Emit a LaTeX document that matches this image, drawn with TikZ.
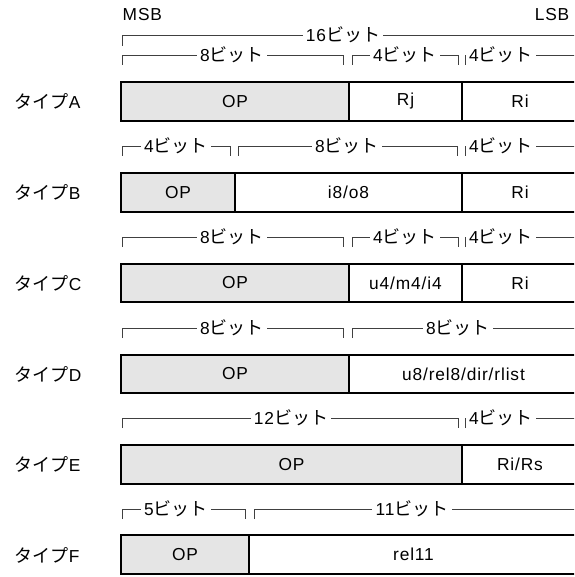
\documentclass[tikz,border=0pt]{standalone}
\usepackage{fontspec}
\setmainfont{Liberation Sans}[LetterSpace=5]
\newfontfamily\jp{Noto Sans CJK JP}[Scale=1.04]
\newcommand{\bits}[1]{#1{\jp ビット}}
\newcommand{\typ}[1]{{\jp タイプ}#1}

\begin{document}
\begin{tikzpicture}[
  x=0.75pt, y=-0.75pt,
  opfield/.style={draw=black, line width=1.4pt, fill=black!10},
  datafield/.style={draw=black, line width=1.4pt, fill=white},
  bitbar/.style={draw=black!75, line width=0.6pt},
  bitlbl/.style={fill=white, inner xsep=2.5pt, inner ysep=0.5pt, font=\fontsize{13}{15}\selectfont},
  fldtxt/.style={font=\fontsize{13}{15}\selectfont},
  typelbl/.style={anchor=west, font=\fontsize{13}{15}\selectfont}
]
\useasboundingbox (0,0) rectangle (574,577);
\clip (0,0) rectangle (574,577);
\node[fldtxt, anchor=west] (msb) at (118,15) {MSB};
\node[fldtxt, anchor=east] (lsb) at (574,15) {LSB};
\draw[bitbar] (122,46) |- (600,35);
\node[bitlbl] (w16) at (343,35) {\bits{16}};
\node[typelbl] (tA) at (10,101.5) {\typ{A}};
\foreach \a/\b/\t/\s [count=\i] in {121/349/OP/opfield, 349/462/Rj/datafield, 462/578/Ri/datafield}{
  \draw[\s] (\a,82) rectangle (\b,121);
  \node[fldtxt] (fA\i) at ({(\a+\b)/2},101.5) {\t};
}
\foreach \a/\b/\m/\n [count=\i] in {122/343/232/8, 352/458/405/4, 465/600/501/4}{
  \draw[bitbar] (\a,65) |- (\b,55) -- (\b,65);
  \node[bitlbl] (bA\i) at (\m,55) {\bits{\n}};
}
\node[typelbl] (tB) at (10,192.5) {\typ{B}};
\foreach \a/\b/\t/\s [count=\i] in {121/235/OP/opfield, 235/462/{i8/o8}/datafield, 462/578/Ri/datafield}{
  \draw[\s] (\a,173) rectangle (\b,212);
  \node[fldtxt] (fB\i) at ({(\a+\b)/2},192.5) {\t};
}
\foreach \a/\b/\m/\n [count=\i] in {122/230/176/4, 238/457/347/8, 465/600/501/4}{
  \draw[bitbar] (\a,156) |- (\b,146) -- (\b,156);
  \node[bitlbl] (bB\i) at (\m,146) {\bits{\n}};
}
\node[typelbl] (tC) at (10,283) {\typ{C}};
\foreach \a/\b/\t/\s [count=\i] in {121/349/OP/opfield, 349/462/{u4/m4/i4}/datafield, 462/578/Ri/datafield}{
  \draw[\s] (\a,264) rectangle (\b,302);
  \node[fldtxt] (fC\i) at ({(\a+\b)/2},283) {\t};
}
\foreach \a/\b/\m/\n [count=\i] in {122/343/232/8, 352/458/405/4, 465/600/501/4}{
  \draw[bitbar] (\a,247) |- (\b,237) -- (\b,247);
  \node[bitlbl] (bC\i) at (\m,237) {\bits{\n}};
}
\node[typelbl] (tD) at (10,374) {\typ{D}};
\foreach \a/\b/\t/\s [count=\i] in {121/349/OP/opfield, 349/578/{u8/rel8/dir/rlist}/datafield}{
  \draw[\s] (\a,355) rectangle (\b,393);
  \node[fldtxt] (fD\i) at ({(\a+\b)/2},374) {\t};
}
\foreach \a/\b/\m/\n [count=\i] in {122/343/232/8, 352/600/458/8}{
  \draw[bitbar] (\a,338) |- (\b,328) -- (\b,338);
  \node[bitlbl] (bD\i) at (\m,328) {\bits{\n}};
}
\node[typelbl] (tE) at (10,464.5) {\typ{E}};
\foreach \a/\b/\t/\s [count=\i] in {121/462/OP/opfield, 462/578/{Ri/Rs}/datafield}{
  \draw[\s] (\a,445) rectangle (\b,484);
  \node[fldtxt] (fE\i) at ({(\a+\b)/2},464.5) {\t};
}
\foreach \a/\b/\m/\n [count=\i] in {122/458/291/12, 465/600/501/4}{
  \draw[bitbar] (\a,428) |- (\b,418) -- (\b,428);
  \node[bitlbl] (bE\i) at (\m,418) {\bits{\n}};
}
\node[typelbl] (tF) at (10,555) {\typ{F}};
\foreach \a/\b/\t/\s [count=\i] in {121/249/OP/opfield, 249/578/rel11/datafield}{
  \draw[\s] (\a,535) rectangle (\b,574);
  \node[fldtxt] (fF\i) at ({(\a+\b)/2},554.5) {\t};
}
\foreach \a/\b/\m/\n [count=\i] in {122/245/176/5, 254/600/412/11}{
  \draw[bitbar] (\a,519) |- (\b,509) -- (\b,519);
  \node[bitlbl] (bF\i) at (\m,509) {\bits{\n}};
}
\end{tikzpicture}
\end{document}
